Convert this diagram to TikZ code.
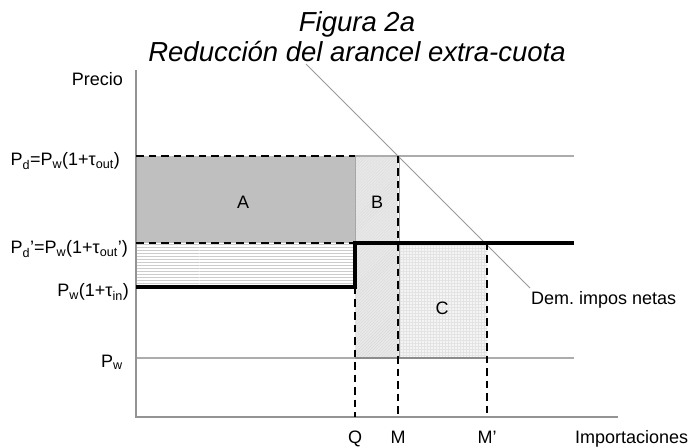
\documentclass[tikz,border=0pt]{standalone}
\usepackage{fontspec}
\setmainfont{Liberation Sans}
\usetikzlibrary{patterns}
\newcommand{\lsub}[1]{\textsubscript{#1}}
\frenchspacing
\begin{document}
\begin{tikzpicture}[x=1bp,y=-1bp,
  lbl/.style={inner sep=0pt,font=\fontsize{18bp}{21bp}\selectfont},
  ttl/.style={inner sep=0pt,font=\fontsize{27.5bp}{30bp}\selectfont\itshape},
  guide/.style={draw=gray!65,line width=1.2bp},
  axisline/.style={draw=gray!85,line width=1.3bp},
  dashln/.style={draw=black,line width=1.3bp,dash pattern=on 7.5bp off 5bp},
  policy/.style={draw=black,line width=4bp,line join=miter},
  demand/.style={draw=gray!80,line width=0.8bp},
  edge/.style={draw=gray!70,line width=1bp}]
\useasboundingbox (0,0) rectangle (691,448);
% coordinates
\coordinate (O) at (136,417);
\coordinate (Ytop) at (136,70);
\coordinate (Xend) at (618,417);
\coordinate (PdL) at (136,156);
\coordinate (PdQ) at (355,156);
\coordinate (PdM) at (398,156);
\coordinate (PdR) at (574,156);
\coordinate (PpL) at (136,243);
\coordinate (PpQ) at (355,243);
\coordinate (PpM) at (398,243);
\coordinate (PpMp) at (487,243);
\coordinate (PpR) at (574,243);
\coordinate (PiL) at (136,287);
\coordinate (PiQ) at (355,287);
\coordinate (PwL) at (136,358);
\coordinate (PwQ) at (355,358);
\coordinate (PwM) at (398,358);
\coordinate (PwMp) at (487,358);
\coordinate (PwR) at (574,358);
\coordinate (Qb) at (355,417);
\coordinate (Mb) at (398,417);
\coordinate (Mpb) at (487,417);
\coordinate (D1) at (306,64);
\coordinate (D2) at (530,288);
% areas
\fill[gray!50] (PdL) rectangle (PpQ);
\fill[white] (PpL) rectangle (PiQ);
\fill[pattern=horizontal lines,pattern color=gray!40] (PpL) rectangle (PiQ);
\fill[gray!17] (PdQ) rectangle (PwM);
\fill[pattern=north east lines,pattern color=gray!30] (PdQ) rectangle (PwM);
\fill[gray!8] (PpM) rectangle (PwMp);
\fill[pattern=grid,pattern color=gray!22] (PpM) rectangle (PwMp);
% guides
\draw[guide] (PdQ) -- (PdR);
\draw[guide] (PwL) -- (PwR);
\draw[edge] (PdQ) -- (PpQ);
\draw[edge] ([xshift=1.5bp]PdM) -- ([xshift=1.5bp]PwM);
\draw[draw=gray!90,line width=1.2bp] (PwQ) -- (PwMp);
\draw[axisline] (Ytop) -- (O) -- (Xend);
\draw[demand] (D1) -- (D2);
% dashed
\draw[dashln] (PdL) -- (PdQ);
\draw[dashln] (PpL) -- (PpQ);
\draw[dashln] (PiQ) -- (Qb);
\draw[dashln] (PdM) -- (Mb);
\draw[dashln] (PpMp) -- (Mpb);
% policy line
\draw[policy] (PiL) -- (PiQ) -- (PpQ) -- (PpR);
% labels
\node[ttl,anchor=base] (t1) at (357,32) {Figura 2a};
\node[ttl,anchor=base] (t2) at (357,62) {Reducción del arancel extra-cuota};
\node[lbl,anchor=base east] (lp) at (123,86) {Precio};
\node[lbl,anchor=base east] (l1) at (120,166) {P\lsub{d}=P\lsub{w}(1+τ\lsub{out})};
\node[lbl,anchor=base east] (l2) at (128,254) {P\lsub{d}’=P\lsub{w}(1+τ\lsub{out}’)};
\node[lbl,anchor=base east] (l3) at (129,297) {P\lsub{w}(1+τ\lsub{in})};
\node[lbl,anchor=base east] (l4) at (123,367) {P\lsub{w}};
\node[lbl] (A) at (243,202) {A};
\node[lbl] (B) at (377,202) {B};
\node[lbl] (C) at (442,308) {C};
\node[lbl,anchor=base west] (dem) at (531,305) {Dem. impos netas};
\node[lbl,anchor=base] (q) at (355,443) {Q};
\node[lbl,anchor=base] (m) at (398,443) {M};
\node[lbl,anchor=base] (mp) at (487,443) {M’};
\node[lbl,anchor=base west] (imp) at (575,443) {Importaciones};
\end{tikzpicture}
\end{document}
